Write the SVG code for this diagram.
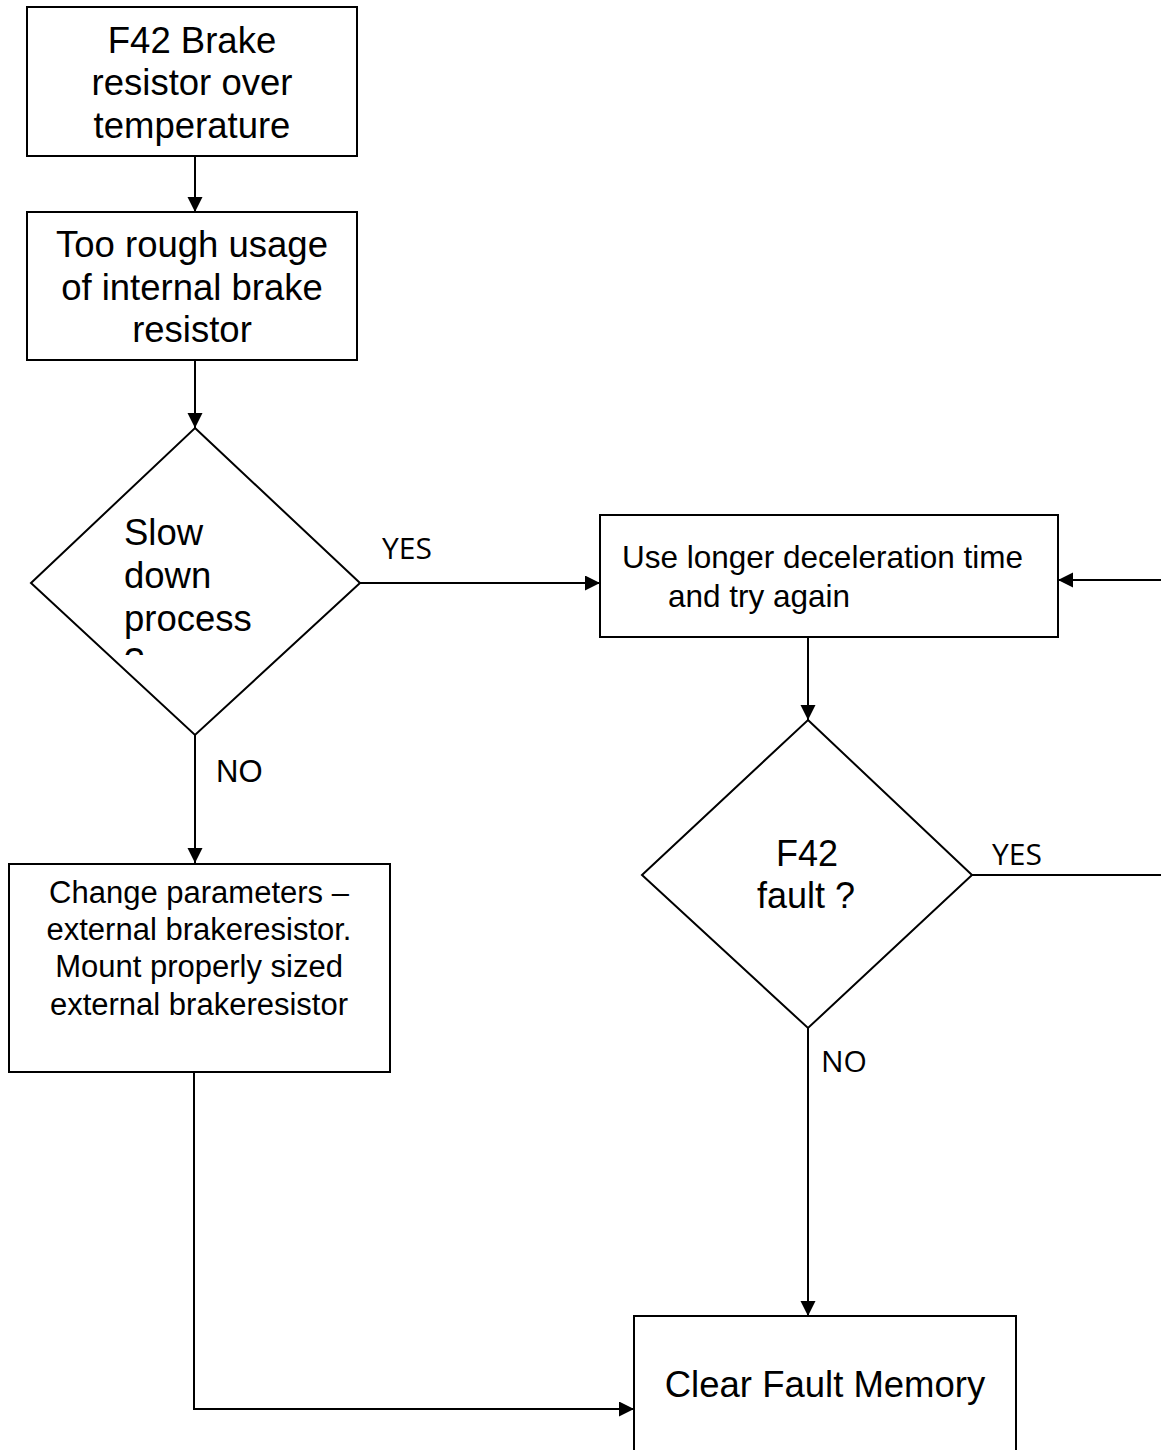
<svg xmlns="http://www.w3.org/2000/svg" width="1161" height="1450" viewBox="0 0 1161 1450">
<style>
.box{fill:#fff;stroke:#000;stroke-width:2}
.t{font-family:"Liberation Sans",Arial,sans-serif;fill:#000}
.lbl{font-family:"Open Sans","Noto Sans",sans-serif;fill:#000;font-size:30px}
.c{fill:none;stroke:#000;stroke-width:2}
</style>
<defs>
<marker id="ah" markerUnits="userSpaceOnUse" markerWidth="16" markerHeight="16" refX="15" refY="7.5" orient="auto">
<path d="M0,0 L15,7.5 L0,15 z" fill="#000"/>
</marker>
<clipPath id="clipD1"><rect x="100" y="480" width="200" height="175"/></clipPath>
</defs>
<rect width="1161" height="1450" fill="#fff"/>
<g id="connectors">
<line class="c" x1="195" y1="156" x2="195" y2="212" marker-end="url(#ah)"/>
<line class="c" x1="195" y1="360" x2="195" y2="428" marker-end="url(#ah)"/>
<line class="c" x1="360" y1="583" x2="600" y2="583" marker-end="url(#ah)"/>
<line class="c" x1="1161" y1="580" x2="1058" y2="580" marker-end="url(#ah)"/>
<line class="c" x1="808" y1="637" x2="808" y2="720" marker-end="url(#ah)"/>
<line class="c" x1="972" y1="875" x2="1161" y2="875"/>
<line class="c" x1="808" y1="1028" x2="808" y2="1316" marker-end="url(#ah)"/>
<line class="c" x1="195" y1="735" x2="195" y2="863" marker-end="url(#ah)"/>
<polyline class="c" points="194,1072 194,1409 634,1409" marker-end="url(#ah)"/>
<text class="lbl" x="382" y="559">YES</text>
<text class="t" x="216" y="782" font-size="31">NO</text>
<text class="lbl" x="992" y="865">YES</text>
<text class="lbl" x="821" y="1072">NO</text>
</g>
<g id="n1">
<rect class="box" x="27" y="7" width="330" height="149"/>
<text class="t" font-size="36.5" text-anchor="middle"><tspan x="192" y="53">F42 Brake</tspan><tspan x="192" y="95">resistor over</tspan><tspan x="192" y="138">temperature</tspan></text>
</g>
<g id="n2">
<rect class="box" x="27" y="212" width="330" height="148"/>
<text class="t" font-size="36.5" text-anchor="middle"><tspan x="192" y="257">Too rough usage</tspan><tspan x="192" y="300">of internal brake</tspan><tspan x="192" y="342">resistor</tspan></text>
</g>
<g id="d1">
<polygon class="box" points="195,428 360,583 195,735 31,583"/>
<text class="t" font-size="36.5" clip-path="url(#clipD1)"><tspan x="124" y="545">Slow</tspan><tspan x="124" y="588">down</tspan><tspan x="124" y="631">process</tspan><tspan x="124" y="674">?</tspan></text>
</g>
<g id="n3">
<rect class="box" x="600" y="515" width="458" height="122"/>
<text class="t" font-size="31.5"><tspan x="622" y="568">Use longer deceleration time</tspan><tspan x="668" y="607">and try again</tspan></text>
</g>
<g id="d2">
<polygon class="box" points="808,720 972,875 808,1028 642,875"/>
<text class="t" font-size="36" text-anchor="middle"><tspan x="807" y="866">F42</tspan><tspan x="806" y="908">fault ?</tspan></text>
</g>
<g id="n4">
<rect class="box" x="9" y="864" width="381" height="208"/>
<text class="t" font-size="31" text-anchor="middle"><tspan x="199" y="903">Change parameters –</tspan><tspan x="199" y="940">external brakeresistor.</tspan><tspan x="199" y="977">Mount properly sized</tspan><tspan x="199" y="1015">external brakeresistor</tspan></text>
</g>
<g id="n5">
<rect class="box" x="634" y="1316" width="382" height="150"/>
<text class="t" font-size="36.5" text-anchor="middle" x="825" y="1397">Clear Fault Memory</text>
</g>
</svg>
